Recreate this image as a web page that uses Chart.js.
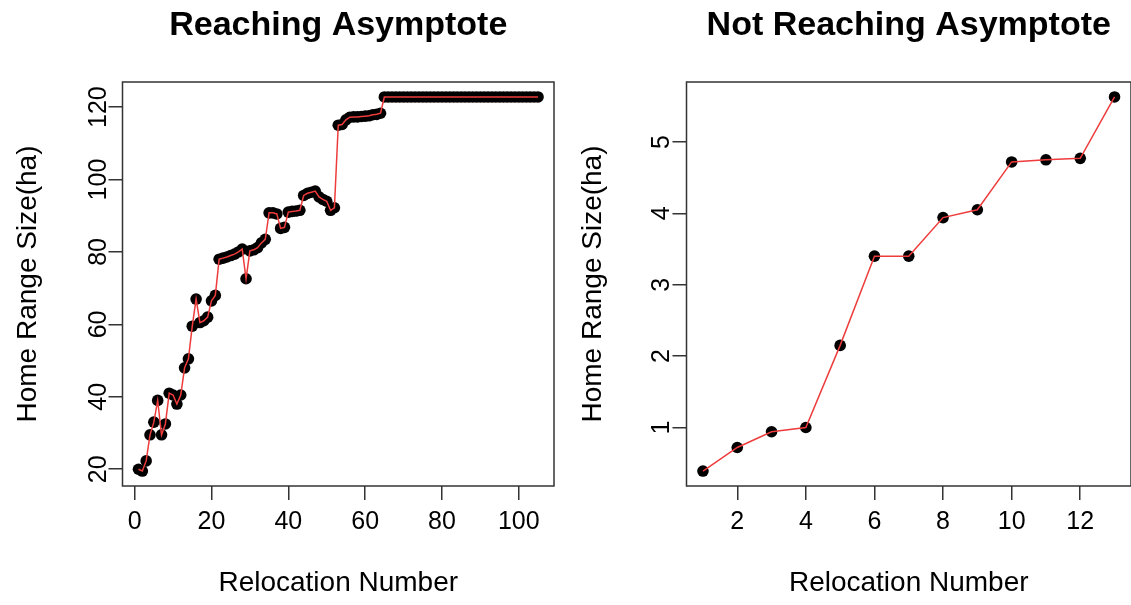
<!DOCTYPE html>
<html>
<head>
<meta charset="utf-8">
<script src="https://cdn.jsdelivr.net/npm/chart.js@4.4.1/dist/chart.umd.min.js"></script>
<style>
  body { margin: 0; background: #fff; }
  #wrap { position: relative; width: 1131px; height: 605px; overflow: hidden; }
  canvas { position: absolute; top: 0; }
</style>
</head>
<body>
<div id="wrap">
  <canvas id="chartA" width="565" height="605" style="left:0px"></canvas>
  <canvas id="chartB" width="566" height="605" style="left:565px"></canvas>
</div>
<script>
// home range curves
var titleA = 'Reaching Asymptote';
var titleB = 'Not Reaching Asymptote';
var xTitle = 'Relocation Number';
var yTitle = 'Home Range Size(ha)';

// left plot, 105 relocations
var homeRangeA = [
  20, 19.5, 22.3, 29.5, 33, 39, 29.5, 32.5, 41, 40.5,
  38, 40.5, 48, 50.5, 59.5, 67, 60.5, 61, 62, 66.5,
  68, 78, 78.3, 78.6, 79, 79.4, 80, 80.8, 72.6, 80.3,
  80.6, 81.2, 82.5, 83.5, 90.8, 90.8, 90.5, 86.5, 86.8, 91,
  91.2, 91.3, 91.5, 95.6, 96.2, 96.5, 96.8, 95.2, 94.5, 94,
  91.5, 92.2, 115, 115.2, 116.5, 117.2, 117.3, 117.3, 117.4, 117.5,
  117.6, 117.9, 118, 118.3, 122.8, 122.8, 122.8, 122.8, 122.8, 122.8,
  122.8, 122.8, 122.8, 122.8, 122.8, 122.8, 122.8, 122.8, 122.8, 122.8,
  122.8, 122.8, 122.8, 122.8, 122.8, 122.8, 122.8, 122.8, 122.8, 122.8,
  122.8, 122.8, 122.8, 122.8, 122.8, 122.8, 122.8, 122.8, 122.8, 122.8,
  122.8, 122.8, 122.8, 122.8, 122.8
];
var xTicksA = [0, 20, 40, 60, 80, 100];
var yTicksA = [20, 40, 60, 80, 100, 120];

// right plot, 13 relocations
var homeRangeB = [0.39, 0.72, 0.94, 1.0, 2.15, 3.40, 3.40, 3.94, 4.05, 4.72, 4.75, 4.77, 5.63];
var xTicksB = [2, 4, 6, 8, 10, 12];
var yTicksB = [1, 2, 3, 4, 5];

var FONT = '"Liberation Sans", Arial, Helvetica, sans-serif';
var INK = '#333';

// R style axis range: data range padded 4% each side
function rRange(lo, hi) {
  var d = (hi - lo) * 0.04;
  return [lo - d, hi + d];
}

var boxPlugin = {
  id: 'box',
  afterDraw: function(chart) {
    var a = chart.chartArea;
    var ctx = chart.ctx;
    ctx.save();
    ctx.strokeStyle = INK;
    ctx.lineWidth = 1.5;
    ctx.strokeRect(a.left, a.top, a.right - a.left, a.bottom - a.top);
    ctx.restore();
  }
};

function makeChart(id, values, xTicks, yTicks, title, opt) {
  var pts = values.map(function(v, i) { return {x: i + 1, y: v}; });
  var xr = rRange(1, values.length);
  var yr = rRange(Math.min.apply(null, values), Math.max.apply(null, values));

  return new Chart(document.getElementById(id), {
    type: 'line',
    data: {
      datasets: [
        {
          data: pts,
          borderColor: 'rgb(238, 60, 60)',
          borderWidth: 1.5,
          pointRadius: 0,
          fill: false,
          order: 1
        },
        {
          data: pts,
          showLine: false,
          pointRadius: 5.8,
          pointBackgroundColor: '#000',
          pointBorderWidth: 0,
          order: 2
        }
      ]
    },
    options: {
      responsive: false,
      animation: false,
      devicePixelRatio: 1,
      layout: { autoPadding: false, padding: { left: 0, right: opt.padRight, top: 0, bottom: 0 } },
      plugins: {
        legend: { display: false },
        tooltip: { enabled: false },
        title: {
          display: true,
          text: title,
          fullSize: false,
          color: '#000',
          font: { family: FONT, size: 34, weight: 'bold' },
          padding: { top: 5.6, bottom: 35.6 }
        }
      },
      scales: {
        x: {
          type: 'linear',
          min: xr[0],
          max: xr[1],
          afterBuildTicks: function(s) { s.ticks = xTicks.map(function(v) { return {value: v}; }); },
          afterFit: function(s) { s.height = 119; },
          border: { display: false },
          grid: { drawOnChartArea: false, drawTicks: true, tickLength: 14, color: INK, lineWidth: 1.5 },
          ticks: { color: '#000', font: { family: FONT, size: 25 }, padding: 7, autoSkip: false, maxRotation: 0 },
          title: {
            display: true, text: xTitle, color: '#000',
            font: { family: FONT, size: 28 },
            padding: { top: 0, bottom: 5 }
          }
        },
        y: {
          type: 'linear',
          min: yr[0],
          max: yr[1],
          afterBuildTicks: function(s) { s.ticks = yTicks.map(function(v) { return {value: v}; }); },
          afterFit: function(s) { s.width = opt.axisWidth; },
          border: { display: false },
          grid: { drawOnChartArea: false, drawTicks: true, tickLength: 14, color: INK, lineWidth: 1.5 },
          ticks: {
            color: '#000', font: { family: FONT, size: 25 },
            padding: opt.yTickPad, autoSkip: false,
            minRotation: 90, maxRotation: 90, crossAlign: 'center'
          },
          title: {
            display: true, text: yTitle, color: '#000',
            font: { family: FONT, size: 28 },
            padding: { top: 11, bottom: 0 }
          }
        }
      }
    },
    plugins: [boxPlugin]
  });
}

var chartA = makeChart('chartA', homeRangeA, xTicksA, yTicksA, titleA, { padRight: 11, axisWidth: 122.5, yTickPad: -11.5 });
var chartB = makeChart('chartB', homeRangeB, xTicksB, yTicksB, titleB, { padRight: 0, axisWidth: 121.5, yTickPad: 3 });
</script>
</body>
</html>
